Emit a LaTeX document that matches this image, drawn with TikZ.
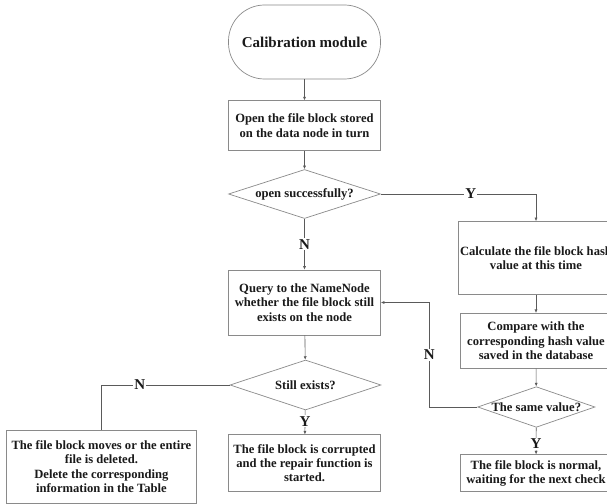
\documentclass[tikz,border=0pt]{standalone}
\usepackage{fontspec}
\setmainfont{Liberation Serif}
\usetikzlibrary{shapes.geometric,arrows.meta}
\definecolor{bordergray}{HTML}{8A8A8A}
\definecolor{linegray}{HTML}{5A5A5A}
\definecolor{txt}{HTML}{1A1A1A}
\tikzset{
  box/.style={draw=bordergray, line width=0.7pt, rectangle, align=center, inner sep=2pt,
    minimum width=152pt, text=txt, font=\bfseries\fontsize{12.6}{14.2}\selectfont},
  term/.style={box, rounded corners=36pt, minimum height=74pt, font=\bfseries\fontsize{15}{16}\selectfont},
  dia/.style={draw=bordergray, line width=0.7pt, diamond, inner sep=0pt, text=txt,
    font=\bfseries\fontsize{12.6}{14.2}\selectfont},
  arr/.style={draw=linegray, line width=0.6pt, -{Latex[length=3.5pt,width=3pt]}},
  conn/.style={draw=linegray, line width=0.6pt},
  lab/.style={fill=white, inner sep=1.2pt, text=txt, font=\bfseries\fontsize{15}{15}\selectfont}
}
\begin{document}
\begin{tikzpicture}[x=1pt,y=-1pt]
\useasboundingbox (0,0) rectangle (607,503);
\clip (0,0) rectangle (607,503);
\fill[white] (0,0) rectangle (607,503);

\node[term] (start) at (304.5,42) {Calibration module};
\node[box, minimum height=50pt] (open) at (304.5,125.7) {Open the file block stored\\on the data node in turn};
\node[dia, minimum width=152pt, minimum height=49pt] (ok) at (304.5,194) {\makebox[0pt]{open successfully?}};
\node[box, minimum height=65pt] (query) at (304.5,302.5) {Query to the NameNode\\whether the file block still\\exists on the node};
\node[dia, minimum width=151pt, minimum height=50pt] (exists) at (305.5,385) {\makebox[0pt]{Still exists?}};
\node[box, minimum height=57pt] (corrupt) at (304.5,463.3) {The file block is corrupted\\and the repair function is\\started.};
\node[box, minimum width=190.7pt, minimum height=73.4pt] (moved) at (101.4,466.7) {The file block moves or the entire\\file is deleted.\\Delete the corresponding\\information in the Table};
\node[box, minimum height=73pt] (calc) at (536,258) {Calculate the file block hash\\value at this time};
\node[box, minimum height=55pt] (comp) at (536,340.8) {Compare with the\\corresponding hash value\\saved in the database};
\node[dia, minimum width=117.3pt, minimum height=40.6pt] (same) at (536.3,407) {\makebox[0pt]{The same value?}};
\node[box, minimum height=37pt] (normal) at (536,473.3) {The file block is normal,\\waiting for the next check};
\coordinate (back) at (429.3,407);

\draw[arr] (start) -- (open);
\draw[arr] (open) -- (ok);
\draw[arr] (ok.east) -| node[lab, pos=0.29] {Y} (calc.north);
\draw[arr] (ok) -- node[lab] {N} (query);
\draw[arr] (query) -- (exists);
\draw[conn] (exists.west) -| node[lab, pos=0.35] {N} (moved.north);
\draw[arr] (exists) -- node[lab, pos=0.45] {Y} (corrupt);
\draw[arr] (calc) -- (comp);
\draw[arr] (comp) -- (same);
\draw[arr] (same) -- node[lab, pos=0.6] {Y} (normal);
\draw[arr] (same.west) -- (back) |- node[lab, pos=0.25] {N} (query.east);
\end{tikzpicture}
\end{document}
